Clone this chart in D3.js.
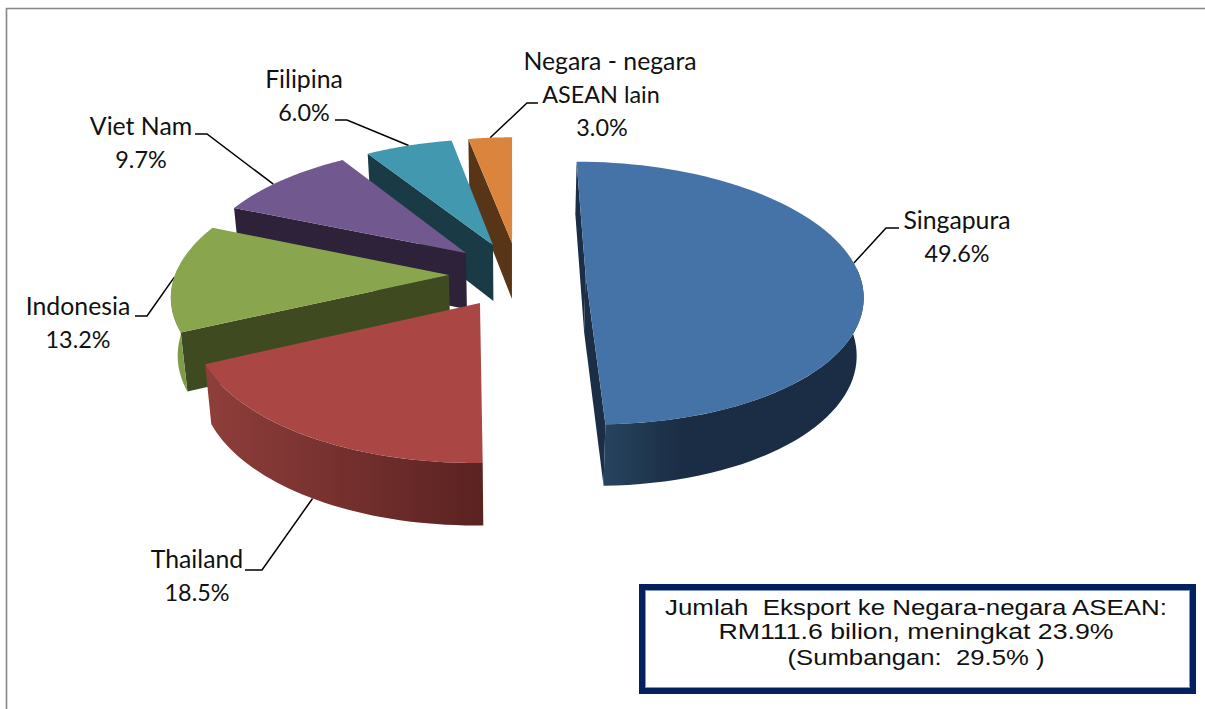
<!DOCTYPE html>
<html><head><meta charset="utf-8">
<script src="https://cdn.jsdelivr.net/npm/d3@7"></script>
<style>html,body{margin:0;padding:0;background:#fff}svg{display:block}</style>
</head><body><svg id="c" width="1205" height="709"></svg>
<script>
const names = [["Singapura"],["Thailand"],["Indonesia"],["Viet Nam"],["Filipina"],["Negara - negara","ASEAN lain"]];
const shares = [49.6,18.5,13.2,9.7,6.0,3.0];
const explodeU = [0.265,-0.117,-0.234,-0.176,-0.0755,-0.004];
const explodeV = [0.02,0.234,0.023,-0.152,-0.217,-0.234];
const topColors = ["#4573a7","#aa4644","#89a54e","#71588f","#4198af","#db843d"];
const wallColors = ["#1c2e45","#5c2322","#3f4a20","#2d2239","#1a3b46","#583517"];
const rimStops = [
 [[0,"#26445f"],[0.3,"#1b2d44"],[1,"#1b2d44"]],
 [[0,"#8f3e3b"],[1,"#5a2221"]],
 [[0,"#7f9a4b"],[1,"#7f9a4b"]],
 [[0,"#5e4a78"],[1,"#5e4a78"]],
 [[0,"#37808f"],[1,"#37808f"]],
 [[0,"#b56e33"],[1,"#b56e33"]]
];
const boxLines = ["Jumlah  Eksport ke Negara-negara ASEAN:","RM111.6 bilion, meningkat 23.9%","(Sumbangan:  29.5% )"];
const boxWidths = [502,395,257];

// label layout: text centres per line, first baseline, elbow, elbow end, attach fraction along the rim, attach on base rim
const labelLayout = [
 {x:[957,957],y:229,ex:886,ey:228,tx:899,f:0.475,base:false},
 {x:[197,197],y:568,ex:262,ey:570,tx:245,f:0.49,base:true},
 {x:[78,78],y:315,ex:147,ey:316,tx:135,f:0.5,base:false},
 {x:[141,141],y:135,ex:207,ey:134,tx:195,f:0.42,base:false},
 {x:[304,304],y:88,ex:347,ey:120,tx:335,f:0.5,base:false},
 {x:[610,601,602],y:70,ex:527,ey:103,tx:538,f:0.5,base:false}
];
const cx=513, cy=272, R=273, A=128, H=57, HV=4.5, persp=0.14, baseShrink=0.98;

const svg=d3.select("#c");
const defs=svg.append("defs");
svg.append("path").attr("d","M1205,8.5H6.5V709").attr("fill","none").attr("stroke","#868686").attr("stroke-width",1.6);

const pie=d3.pie().sort(null).startAngle(0).endAngle(2*Math.PI);
const arcs=pie(shares);
const line=d3.line();
function project(u,v,base){
  const s=1/(1-persp*v);
  let x=R*u*s, y=cy+A*v*s;
  if(base){x*=baseShrink;y+=H+HV*v;}
  return [cx+x,y];
}
const rim=(i,t,base)=>project(explodeU[i]+Math.sin(t), explodeV[i]-Math.cos(t), base);
const apex=(i,base)=>project(explodeU[i],explodeV[i],base);

// leaders under the slices
const leaders=svg.append("g");
arcs.forEach((d,i)=>{
  const L=labelLayout[i];
  const t=d.startAngle+(d.endAngle-d.startAngle)*L.f;
  leaders.append("path").attr("d",line([rim(i,t,L.base),[L.ex,L.ey],[L.tx,L.ey]])).attr("fill","none").attr("stroke","#000").attr("stroke-width",1.5);
});
// slices back to front
const slices=svg.append("g");
[5,4,3,2,1,0].forEach(i=>{
  const d=arcs[i], g=slices.append("g");
  const a0=apex(i,false), a1=apex(i,true);
  [[d.startAngle,1],[d.endAngle,-1]].forEach(([t,sg])=>{
    const q=[a0,rim(i,t,false),rim(i,t,true),a1];
    if(d3.polygonArea(q)*sg>0) g.append("path").attr("d",line(q)+"Z").attr("fill",wallColors[i]);
  });
  // outer wall: front-facing part of the rim
  const t0=Math.max(d.startAngle,Math.PI/2-0.05), t1=Math.min(d.endAngle,3*Math.PI/2+0.05);
  if(t1>t0){
    const ts=d3.range(0,41).map(k=>t0+(t1-t0)*k/40);
    const q=ts.map(t=>rim(i,t,false)).concat(ts.slice().reverse().map(t=>rim(i,t,true)));
    const xs=d3.extent(q,p=>p[0]);
    const gr=defs.append("linearGradient").attr("id","rim"+i).attr("gradientUnits","userSpaceOnUse")
      .attr("x1",xs[0]).attr("x2",xs[1]).attr("y1",0).attr("y2",0);
    rimStops[i].forEach(([o,c])=>gr.append("stop").attr("offset",o).attr("stop-color",c));
    g.append("path").attr("d",line(q)+"Z").attr("fill","url(#rim"+i+")");
  }
  const pts=[a0];
  for(let k=0;k<=80;k++) pts.push(rim(i,d.startAngle+(d.endAngle-d.startAngle)*k/80,false));
  g.append("path").attr("d",line(pts)+"Z").attr("fill",topColors[i]);
});
// labels
const fmt=d3.format(".1f");
arcs.forEach((d,i)=>{
  const L=labelLayout[i];
  const t=svg.append("text").attr("font-family","Lato").attr("fill","#111").attr("text-anchor","middle");
  const lines=names[i].concat([fmt(shares[i])+"%"]);
  lines.forEach((s,k)=>{
    t.append("tspan").attr("x",L.x[k]).attr("y",L.y+k*33).attr("font-size",k===lines.length-1?23.4:(s==="ASEAN lain"?23.4:24.8)).text(s);
  });
});
// note box
svg.append("rect").attr("x",642).attr("y",587).attr("width",551).attr("height",104).attr("fill","#fff").attr("stroke","#03215f").attr("stroke-width",6);
svg.append("rect").attr("x",645.5).attr("y",590.5).attr("width",544).attr("height",97).attr("fill","none").attr("stroke","#7f93bb").attr("stroke-width",1);
const boxBase=[615,639,665];
boxLines.forEach((s,k)=>{
  svg.append("text").attr("x",916).attr("y",boxBase[k]).attr("text-anchor","middle").attr("font-family","Liberation Sans").attr("font-size",22).attr("fill","#111")
    .attr("textLength",boxWidths[k]).attr("lengthAdjust","spacingAndGlyphs").style("white-space","pre").text(s);
});
</script></body></html>
